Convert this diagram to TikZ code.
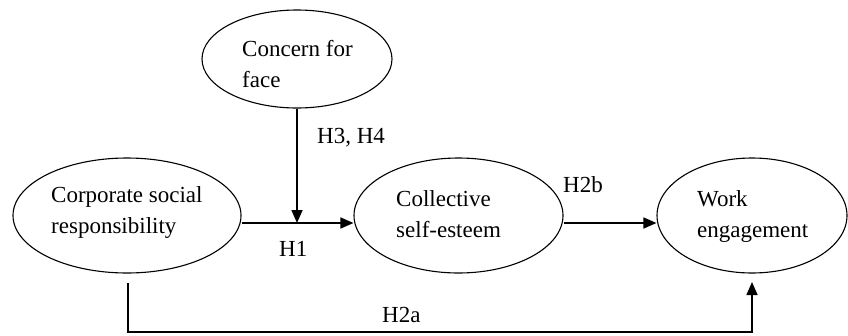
\documentclass[tikz,border=0pt]{standalone}
\usepackage{fontspec}
\setmainfont{Liberation Serif}
\usetikzlibrary{arrows.meta,shapes.geometric}
\tikzset{
  construct/.style={draw, ellipse, inner sep=0pt, line width=1.1pt},
  ctext/.style={anchor=base west, align=left, inner sep=0pt, font=\fontsize{23}{31}\selectfont},
  hlabel/.style={anchor=base west, inner sep=0pt, font=\fontsize{23}{28}\selectfont},
  link/.style={line width=1.6pt, -{Triangle[length=13pt,width=11pt]}}
}
\begin{document}
\begin{tikzpicture}[x=1pt,y=-1pt]
\useasboundingbox (0,0) rectangle (848,335);
% ellipses
\node[construct, minimum width=190pt, minimum height=98pt] (face) at (297,59) {};
\node[construct, minimum width=228pt, minimum height=115pt] (csr) at (127,215.5) {};
\node[construct, minimum width=209pt, minimum height=115pt] (cse) at (458.5,215.5) {};
\node[construct, minimum width=190pt, minimum height=115pt] (we) at (752,215.5) {};
% texts (anchor = baseline of the last line)
\node[ctext] (facetext) at (242,87) {Concern for\\face};
\node[ctext] (csrtext) at (51,233) {Corporate social\\responsibility};
\node[ctext] (csetext) at (396,237) {Collective\\self-esteem};
\node[ctext] (wetext) at (697,237) {Work\\engagement};
% connectors
\coordinate (mod) at (297,223);
\coordinate (csrout) at (128,283);
\coordinate (corner1) at (128,332);
\coordinate (corner2) at (752,332);
\coordinate (weIn) at (752,282);
\draw[link] (csr.east |- mod) -- (cse.west |- mod);
\draw[link] (face.south) -- (mod);
\draw[link] (cse.east |- mod) -- (we.west |- mod);
\draw[link] (csrout) -- (corner1) -- (corner2) -- (weIn);
% labels
\node[hlabel] (h34) at (317,143) {H3, H4};
\node[hlabel] (h1) at (279,256) {H1};
\node[hlabel] (h2b) at (563,192) {H2b};
\node[hlabel] (h2a) at (382,322) {H2a};
\end{tikzpicture}
\end{document}
